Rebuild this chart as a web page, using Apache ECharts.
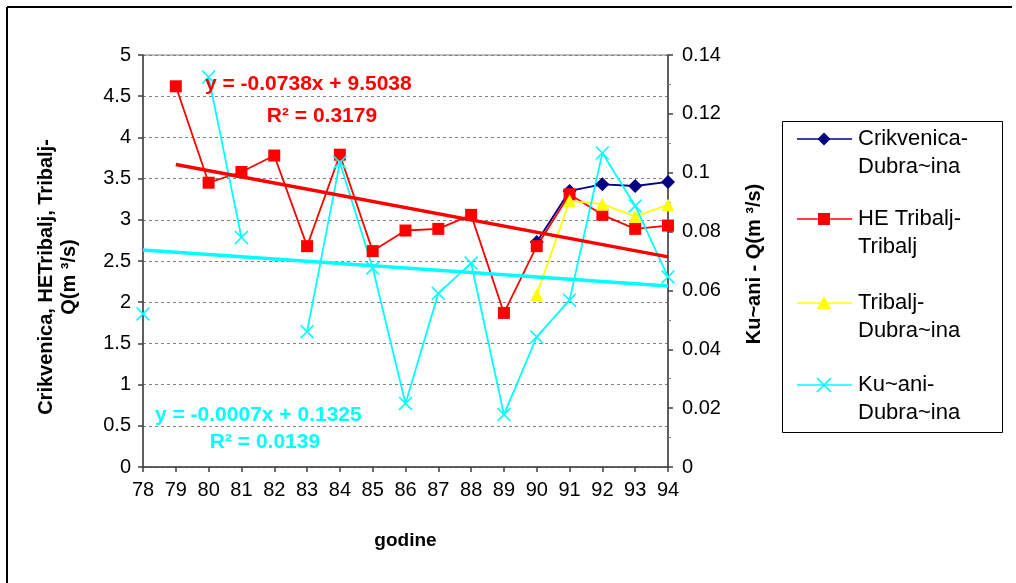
<!DOCTYPE html>
<html>
<head>
<meta charset="utf-8">
<script src="https://cdn.jsdelivr.net/npm/echarts@6/dist/echarts.min.js"></script>
<style>
html,body{margin:0;padding:0;background:#fff;}
#chart{width:1016px;height:583px;}
</style>
</head>
<body>
<div id="chart"></div>
<script>
// ---- data ----
const years = [78, 79, 80, 81, 82, 83, 84, 85, 86, 87, 88, 89, 90, 91, 92, 93, 94];
const crikvenica = [null, null, null, null, null, null, null, null, null, null, null, null, 2.73, 3.35, 3.43, 3.41, 3.46];
const heTribalj = [null, 4.62, 3.45, 3.58, 3.78, 2.68, 3.79, 2.62, 2.87, 2.89, 3.06, 1.87, 2.68, 3.31, 3.06, 2.89, 2.93];
const tribaljDubrasina = [null, null, null, null, null, null, null, null, null, null, null, null, 2.09, 3.23, 3.19, 3.04, 3.18];
const kucani = [0.052, null, 0.1325, 0.078, null, 0.046, 0.1035, 0.0676, 0.0216, 0.059, 0.0693, 0.0178, 0.0442, 0.0567, 0.1067, 0.0887, 0.0646];
const redTrendX = [79, 94];
const redTrendY = [3.67, 2.55];
const cyanTrendX = [78, 94];
const cyanTrendY = [0.0737, 0.0615];
const seriesNames = ['Crikvenica-Dubra~ina', 'HE Tribalj-Tribalj', 'Tribalj-Dubra~ina', 'Ku~ani-Dubra~ina'];
const legendLines = [['Crikvenica-', 'Dubra~ina'], ['HE Tribalj-', 'Tribalj'], ['Tribalj-', 'Dubra~ina'], ['Ku~ani-', 'Dubra~ina']];
const redEq = ['y = -0.0738x + 9.5038', 'R² = 0.3179'];
const cyanEq = ['y = -0.0007x + 0.1325', 'R² = 0.0139'];
const xTitle = 'godine';
const leftTitle = 'Crikvenica, HETribalj, Tribalj-\nQ(m ³/s)';
const rightTitle = 'Ku~ani - Q(m ³/s)';

const FONT = '"Liberation Sans", Arial, sans-serif';
const X_PATH = 'path://M0,1.6L1.6,0L10,8.4L18.4,0L20,1.6L11.6,10L20,18.4L18.4,20L10,11.6L1.6,20L0,18.4L8.4,10Z';

function pairs(vals) {
  return years.map((y, i) => [y, vals[i] === null ? '-' : vals[i]]);
}
function trend(xs, ys) { return xs.map((x, i) => [x, ys[i]]); }

const colors = ['#000080', '#FF0000', '#FFFF00', '#00FFFF'];

// legend drawn as graphic
const legendGraphic = [];
const legendY = [139, 219, 303, 385];
legendGraphic.push({type: 'rect', shape: {x: 782.5, y: 121.5, width: 220, height: 311}, style: {fill: '#fff', stroke: '#000', lineWidth: 1}, z: 10});
legendLines.forEach((ls, i) => {
  const y = legendY[i];
  legendGraphic.push({type: 'line', shape: {x1: 797, y1: y, x2: 852, y2: y}, style: {stroke: colors[i], lineWidth: 1.5}, z: 11});
  if (i === 0) legendGraphic.push({type: 'polygon', shape: {points: [[824, y - 6.5], [830.5, y], [824, y + 6.5], [817.5, y]]}, style: {fill: colors[i]}, z: 12});
  else if (i === 1) legendGraphic.push({type: 'rect', shape: {x: 818, y: y - 6, width: 12, height: 12}, style: {fill: colors[i]}, z: 12});
  else if (i === 2) legendGraphic.push({type: 'polygon', shape: {points: [[824, y - 7], [831, y + 6], [817, y + 6]]}, style: {fill: colors[i]}, z: 12});
  else {
    legendGraphic.push({type: 'line', shape: {x1: 817, y1: y - 7, x2: 831, y2: y + 7}, style: {stroke: colors[i], lineWidth: 1.7}, z: 12});
    legendGraphic.push({type: 'line', shape: {x1: 831, y1: y - 7, x2: 817, y2: y + 7}, style: {stroke: colors[i], lineWidth: 1.7}, z: 12});
  }
  ls.forEach((t, j) => {
    legendGraphic.push({type: 'text', x: 858, y: y + j * 28, z: 12,
      style: {text: t, fill: '#000', font: '22px ' + FONT, align: 'left', verticalAlign: 'middle'}});
  });
});

const textGraphic = [
  {type: 'text', x: 205, y: 84, style: {text: redEq[0], fill: '#FF0000', font: 'bold 21px ' + FONT, align: 'left', verticalAlign: 'middle'}, z: 20},
  {type: 'text', x: 322, y: 116, style: {text: redEq[1], fill: '#FF0000', font: 'bold 21px ' + FONT, align: 'center', verticalAlign: 'middle'}, z: 20},
  {type: 'text', x: 155, y: 415, style: {text: cyanEq[0], fill: '#00FFFF', font: 'bold 21px ' + FONT, align: 'left', verticalAlign: 'middle'}, z: 20},
  {type: 'text', x: 265, y: 442, style: {text: cyanEq[1], fill: '#00FFFF', font: 'bold 21px ' + FONT, align: 'center', verticalAlign: 'middle'}, z: 20},
  {type: 'line', shape: {x1: 7, y1: 7, x2: 1012, y2: 7}, style: {stroke: '#000', lineWidth: 2}},
  {type: 'line', shape: {x1: 7, y1: 7, x2: 7, y2: 583}, style: {stroke: '#000', lineWidth: 2}}
];

const chart = echarts.init(document.getElementById('chart'), null, {renderer: 'canvas'});
const axisLineStyle = {color: '#404040', width: 1.5};
chart.setOption({
  animation: false,
  backgroundColor: '#fff',
  grid: {left: 143, right: 348, top: 55, bottom: 116, show: true, borderColor: '#808080', borderWidth: 1, backgroundColor: 'transparent'},
  xAxis: {
    type: 'value', min: 78, max: 94, interval: 1,
    name: xTitle, nameLocation: 'middle', nameGap: 64,
    nameTextStyle: {fontFamily: FONT, fontWeight: 'bold', fontSize: 19, color: '#000'},
    axisLine: {show: true, onZero: false, lineStyle: axisLineStyle},
    axisTick: {show: true, length: 5, lineStyle: axisLineStyle},
    axisLabel: {fontFamily: FONT, fontSize: 20, color: '#000', margin: 13},
    splitLine: {show: false}
  },
  yAxis: [{
    type: 'value', min: 0, max: 5, interval: 0.5,
    name: leftTitle, nameLocation: 'middle', nameGap: 62,
    nameTextStyle: {fontFamily: FONT, fontWeight: 'bold', fontSize: 20, color: '#000', lineHeight: 23, padding: [0, 32, 0, 0]},
    axisLine: {show: true, lineStyle: axisLineStyle},
    axisTick: {show: true, length: 5, lineStyle: axisLineStyle},
    axisLabel: {fontFamily: FONT, fontSize: 20, color: '#000', margin: 12},
    splitLine: {show: true, lineStyle: {color: '#808080', type: [3, 3], width: 1}}
  }, {
    type: 'value', min: 0, max: 0.14, interval: 0.02, position: 'right',
    name: rightTitle, nameLocation: 'middle', nameGap: 76,
    nameTextStyle: {fontFamily: FONT, fontWeight: 'bold', fontSize: 20, color: '#000', padding: [0, 6, 0, 0]},
    axisLine: {show: true, lineStyle: axisLineStyle},
    axisTick: {show: true, length: 5, lineStyle: axisLineStyle},
    minorTick: {show: true, splitNumber: 2, length: 3, lineStyle: {color: '#808080'}},
    axisLabel: {fontFamily: FONT, fontSize: 20, color: '#000', margin: 14},
    splitLine: {show: false}
  }],
  series: [
    {name: seriesNames[0], type: 'line', data: pairs(crikvenica), symbol: 'diamond', symbolSize: 14,
     lineStyle: {color: colors[0], width: 1.8}, itemStyle: {color: colors[0]}, z: 3},
    {name: seriesNames[1], type: 'line', data: pairs(heTribalj), symbol: 'rect', symbolSize: 12,
     lineStyle: {color: colors[1], width: 1.8}, itemStyle: {color: colors[1]}, z: 3},
    {name: seriesNames[2], type: 'line', data: pairs(tribaljDubrasina), symbol: 'triangle', symbolSize: 13,
     lineStyle: {color: colors[2], width: 1.8}, itemStyle: {color: colors[2]}, z: 3},
    {name: seriesNames[3], type: 'line', yAxisIndex: 1, data: pairs(kucani), symbol: X_PATH, symbolSize: 14,
     connectNulls: false, lineStyle: {color: colors[3], width: 1.8}, itemStyle: {color: colors[3]}, z: 3},
    {name: 'trend-red', type: 'line', data: trend(redTrendX, redTrendY), symbol: 'none',
     lineStyle: {color: '#FF0000', width: 3.5}, z: 4, silent: true},
    {name: 'trend-cyan', type: 'line', yAxisIndex: 1, data: trend(cyanTrendX, cyanTrendY), symbol: 'none',
     lineStyle: {color: '#00FFFF', width: 3.5}, z: 4, silent: true}
  ],
  graphic: legendGraphic.concat(textGraphic)
});
</script>
</body>
</html>
